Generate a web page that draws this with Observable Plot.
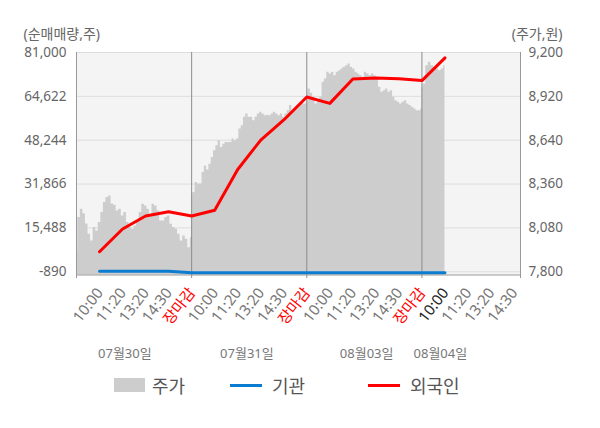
<!DOCTYPE html>
<html><head><meta charset="utf-8">
<script src="https://cdn.jsdelivr.net/npm/d3@7"></script>
<script src="https://cdn.jsdelivr.net/npm/@observablehq/plot@0.6"></script>
<style>
body{margin:0;background:#fff;font-family:"Noto Sans","Noto Sans CJK KR",sans-serif;}
#wrap{position:relative;width:600px;height:428px;overflow:hidden;}
#legend{position:absolute;left:0;top:370px;width:600px;height:30px;}
#legend div{position:absolute;}
.lt{top:0;height:30px;line-height:30px;font-size:18px;color:#555;font-family:"Noto Sans CJK KR","Noto Sans",sans-serif;}
</style></head><body>
<div id="wrap"><div id="chart"></div>
<div id="legend">
  <div style="left:114px;top:8px;width:31px;height:14px;background:#cdcdcd"></div>
  <div class="lt" style="left:152px">주가</div>
  <div style="left:230px;top:13.5px;width:32px;height:3px;background:#0b7dd1"></div>
  <div class="lt" style="left:272px">기관</div>
  <div style="left:368px;top:13.5px;width:32px;height:3px;background:#ff0000"></div>
  <div class="lt" style="left:410px">외국인</div>
</div></div>
<script>
// ---- data ----
const dates = ["07월30일", "07월31일", "08월03일", "08월04일"];
const dateSlot = [2.1, 7.4, 12.6, 15.8];
const slotLabels = ["10:00","11:20","13:20","14:30","장마감",
                    "10:00","11:20","13:20","14:30","장마감",
                    "10:00","11:20","13:20","14:30","장마감",
                    "10:00","11:20","13:20","14:30"];
const leftTicks = [-890, 15488, 31866, 48244, 64622, 81000];
const priceTicks = [7800, 8080, 8360, 8640, 8920, 9200];
// 외국인 cumulative net buying (shares) at slots 1..16
const foreign = [6600, 15100, 19950, 21550, 19950, 22100, 37300, 48300, 55800, 64400,
                 62000, 71100, 71500, 71200, 70500, 79000];
// 기관
const inst = [-650, -650, -650, -650, -1250, -1250, -1250, -1250, -1250, -1250,
              -1250, -1250, -1250, -1250, -1250, -1250];
// intraday price (원)
const price1 = [7932, 8146, 8200, 8170, 8105, 8040, 7996, 8082, 8060, 8114, 8178, 8242, 8274, 8284,
  8233, 8225, 8188, 8200, 8156, 8178, 8114, 8082, 8071, 8092, 8124, 8178, 8231, 8220, 8200, 8156,
  8231, 8220, 8188, 8124, 8124, 8146, 8156, 8103, 8082, 8071, 8039, 7996, 8028, 8007, 7954, 8018];
const price2 = [8295, 8306, 8370, 8360, 8360, 8434, 8476, 8450, 8487, 8530, 8572, 8605, 8637, 8594,
  8615, 8626, 8626, 8626, 8647, 8637, 8647, 8711, 8733, 8786, 8807, 8786, 8786, 8764, 8786, 8807,
  8818, 8807, 8796, 8800, 8796, 8807, 8818, 8807, 8796, 8807, 8786, 8807, 8828, 8861, 8828, 8839,
  8850, 8861, 8871, 8871, 8871];
const price3 = [8892, 8967, 8940, 8914, 8871, 8890, 8914, 9010, 9031, 9074, 9063, 9074, 9052, 9074,
  9084, 9095, 9106, 9116, 9127, 9106, 9095, 9074, 9063, 9052, 9042, 9074, 9063, 9052, 9063, 9052,
  9031, 8978, 8946, 8956, 8967, 8946, 8956, 8914, 8892, 8882, 8871, 8882, 8892, 8871, 8861, 8850,
  8839, 8828, 8828, 8839];
const price4 = [8978, 8999, 9116, 9138, 9116, 9106, 9095, 9084, 9095, 9116];

// ---- build ----
const D = 19.28;
const yMin = -2087;
const yBelow = -3400;
const toY = d3.scaleLinear([7800, 9200], [-890, 81000]);
const priceRows = [];
[[price1, 0, 5], [price2, 5, 5], [price3, 10, 5], [price4, 15, 1]].forEach(([arr, s, span]) => {
  arr.forEach((p, i) => priceRows.push({x: s + span * i / (arr.length - 1), p}));
});
const foreignRows = foreign.map((v, i) => ({x: i + 1, v}));
const instRows = inst.map((v, i) => ({x: i + 1, v}));
const slotRows = slotLabels.map((t, i) => ({x: i + 1, t,
  c: t === "장마감" ? "#ff0000" : (i === 15 ? "#222222" : "#777777")}));
const dateRows = dates.map((t, i) => ({x: dateSlot[i], t}));
const fmt = d3.format(",");

const chart = Plot.plot({
  width: 600, height: 370,
  marginLeft: 76, marginRight: 80, marginTop: 52, marginBottom: 95.5,
  style: {fontFamily: '"Noto Sans","Noto Sans CJK KR",sans-serif', background: "white"},
  x: {domain: [0, D], axis: null, label: null},
  y: {domain: [yMin, 81000], axis: null, label: null},
  color: {type: "identity"},
  marks: [
    Plot.frame({fill: "#f4f4f4", stroke: null}),
    Plot.ruleY(leftTicks, {stroke: "#dddddd"}),
    Plot.areaY(priceRows, {x: "x", y1: yMin, y2: d => toY(d.p), fill: "#cdcdcd", curve: "step"}),
    Plot.ruleX([5, 10, 15], {y1: yBelow, y2: 81000, stroke: "#8c8c8c"}),
    Plot.ruleX([0, D], {y1: yBelow, y2: 81000, stroke: "#999999"}),
    Plot.ruleY([yMin], {stroke: "#999999"}),
    Plot.line(instRows, {x: "x", y: "v", stroke: "#0b7dd1", strokeWidth: 3}),
    Plot.line(foreignRows, {x: "x", y: "v", stroke: "#ff0000", strokeWidth: 3}),
    Plot.axisY({anchor: "left", label: null, ticks: leftTicks, tickSize: 0, tickPadding: 10, fontSize: 13.5,
      fill: "#666", tickFormat: d => fmt(d).replace("−", "-")}),
    Plot.axisY({anchor: "right", label: null, ticks: priceTicks.map(toY), tickSize: 0, tickPadding: 8, fontSize: 13.5,
      fill: "#666", tickFormat: d => fmt(Math.round(toY.invert(d)))}),
    Plot.text(slotRows, {x: "x", text: "t", fill: "c", frameAnchor: "bottom", lineAnchor: "middle",
      rotate: -52, textAnchor: "end", dy: 15, dx: 0.5, fontSize: 15}),
    Plot.text(dateRows, {x: "x", text: "t", frameAnchor: "bottom", lineAnchor: "middle", dy: 78.5,
      fill: "#777", fontSize: 13}),
    Plot.text(["(순매매량,주)"], {frameAnchor: "top-left", lineAnchor: "middle", textAnchor: "start",
      dx: -53, dy: -18, fill: "#666", fontSize: 14}),
    Plot.text(["(주가,원)"], {frameAnchor: "top-right", lineAnchor: "middle", textAnchor: "end",
      dx: 42, dy: -18, fill: "#666", fontSize: 14})
  ]
});
document.getElementById("chart").appendChild(chart);
</script></body></html>
